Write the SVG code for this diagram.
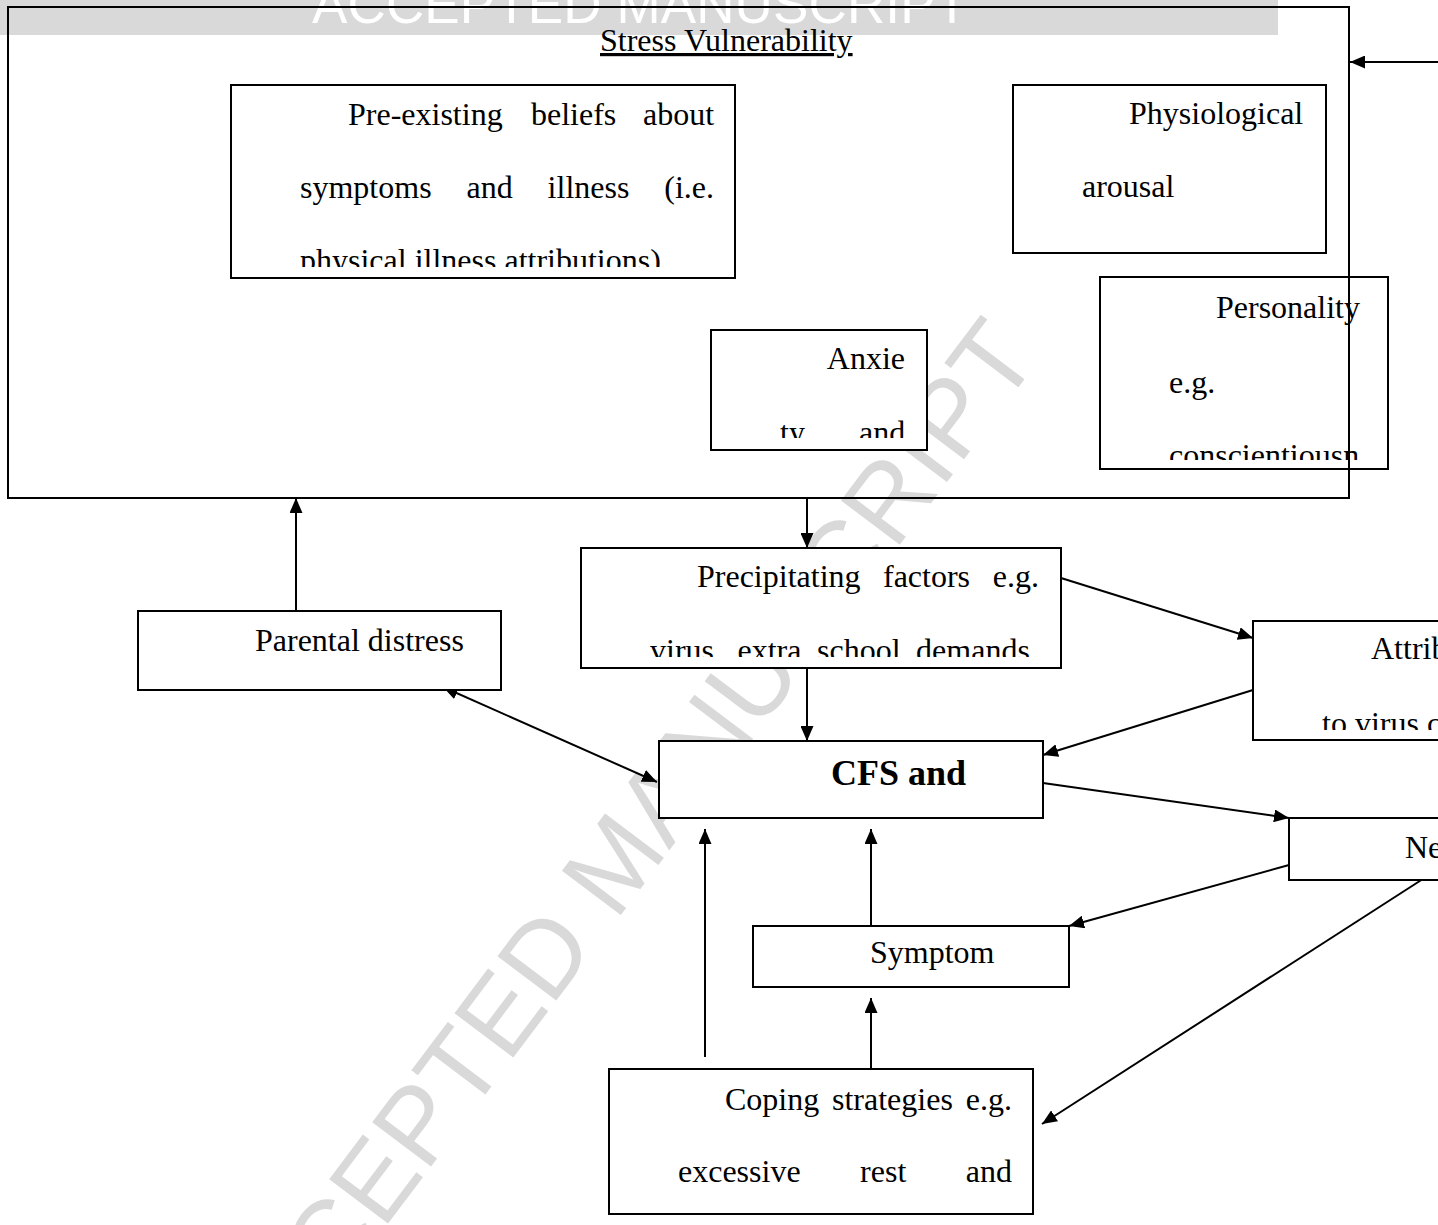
<svg xmlns="http://www.w3.org/2000/svg" width="1438" height="1225" viewBox="0 0 1438 1225">
<style>
.box{fill:#fff;stroke:#000;stroke-width:2}
.frame{fill:none;stroke:#000;stroke-width:2}
.t{font-family:"Liberation Serif","Times New Roman",serif;font-size:32px;fill:#000}
.b{font-weight:bold;font-size:36px}
.c{stroke:#000;stroke-width:2;fill:none}
.wm{font-family:"Liberation Sans",Arial,sans-serif;fill:#d9d9d9}
</style>
<defs>
<marker id="ah" markerWidth="15" markerHeight="13" refX="15" refY="6.5" orient="auto-start-reverse" markerUnits="userSpaceOnUse"><path d="M0,0 L15,6.5 L0,13 z" fill="#000"/></marker>
<clipPath id="clip-pre"><rect x="231" y="85" width="504" height="182"/></clipPath>
<clipPath id="clip-prec"><rect x="581" y="548" width="480" height="109"/></clipPath>
<clipPath id="clip-anx"><rect x="711" y="330" width="216" height="108"/></clipPath>
<clipPath id="clip-pers"><rect x="1100" y="277" width="288" height="183"/></clipPath>
<clipPath id="clip-att"><rect x="1253" y="621" width="200" height="109"/></clipPath>
</defs>

<g id="watermark">
<rect x="0" y="0" width="1278" height="35" fill="#d9d9d9"/>
<text class="wm" x="640" y="23" text-anchor="middle" font-size="53" textLength="656" style="fill:#fff">ACCEPTED MANUSCRIPT</text>
<text class="wm" transform="translate(644,884) rotate(-53)" x="0" y="0" text-anchor="middle" font-size="107">ACCEPTED MANUSCRIPT</text>
</g>

<g id="connectors">
<line class="c" x1="1440" y1="62" x2="1350" y2="62" marker-end="url(#ah)"/>
<line class="c" x1="296" y1="611" x2="296" y2="498" marker-end="url(#ah)"/>
<line class="c" x1="807" y1="498" x2="807" y2="548" marker-end="url(#ah)"/>
<line class="c" x1="807" y1="668" x2="807" y2="741" marker-end="url(#ah)"/>
<line class="c" x1="1061" y1="578" x2="1253" y2="638" marker-end="url(#ah)"/>
<line class="c" x1="1253" y1="690" x2="1043" y2="755" marker-end="url(#ah)"/>
<line class="c" x1="1043" y1="783" x2="1289" y2="818" marker-end="url(#ah)"/>
<line class="c" x1="443" y1="687" x2="657" y2="782" marker-start="url(#ah)" marker-end="url(#ah)"/>
<line class="c" x1="1289" y1="865" x2="1069" y2="926" marker-end="url(#ah)"/>
<line class="c" x1="1426" y1="877" x2="1042" y2="1124" marker-end="url(#ah)"/>
<line class="c" x1="871" y1="926" x2="871" y2="829" marker-end="url(#ah)"/>
<line class="c" x1="871" y1="1069" x2="871" y2="998" marker-end="url(#ah)"/>
<line class="c" x1="705" y1="1057" x2="705" y2="829" marker-end="url(#ah)"/>
</g>

<g id="pre-existing-beliefs">
<rect class="box" x="231" y="85" width="504" height="193"/>
<g clip-path="url(#clip-pre)">
<text class="t" y="125"><tspan x="348">Pre-existing</tspan><tspan x="531">beliefs</tspan><tspan x="643">about</tspan></text>
<text class="t" y="198"><tspan x="300">symptoms</tspan><tspan x="466.5">and</tspan><tspan x="547.6">illness</tspan><tspan x="664.3">(i.e.</tspan></text>
<text class="t" x="300" y="271">physical illness attributions)</text>
</g>
</g>

<g id="physiological-arousal">
<rect class="box" x="1013" y="85" width="313" height="168"/>
<text class="t" x="1129" y="124">Physiological</text>
<text class="t" x="1082" y="197">arousal</text>
</g>

<g id="personality">
<rect class="box" x="1100" y="277" width="288" height="192"/>
<g clip-path="url(#clip-pers)">
<text class="t" x="1216" y="318">Personality</text>
<text class="t" x="1169" y="393">e.g.</text>
<text class="t" x="1169" y="466">conscientiousn</text>
</g>
</g>

<g id="anxiety">
<rect class="box" x="711" y="330" width="216" height="120"/>
<g clip-path="url(#clip-anx)">
<text class="t" x="905" y="369" text-anchor="end">Anxie</text>
<text class="t" y="443"><tspan x="780">ty</tspan><tspan x="859">and</tspan></text>
</g>
</g>

<g id="stress-vulnerability">
<rect class="frame" x="8" y="7" width="1341" height="491"/>
<text class="t" x="600" y="51" text-decoration="underline">Stress Vulnerability</text>
</g>

<g id="precipitating-factors">
<rect class="box" x="581" y="548" width="480" height="120"/>
<g clip-path="url(#clip-prec)">
<text class="t" y="587"><tspan x="697">Precipitating</tspan><tspan x="883">factors</tspan><tspan x="992.7">e.g.</tspan></text>
<text class="t" y="661"><tspan x="650">virus,</tspan><tspan x="737.5">extra</tspan><tspan x="817">school</tspan><tspan x="916.1">demands.</tspan></text>
</g>
</g>

<g id="parental-distress">
<rect class="box" x="138" y="611" width="363" height="79"/>
<text class="t" x="255" y="651">Parental distress</text>
</g>

<g id="attributions">
<rect class="box" x="1253" y="621" width="200" height="119"/>
<g clip-path="url(#clip-att)">
<text class="t" x="1371" y="659">Attrib</text>
<text class="t" x="1322" y="734">to virus c</text>
</g>
</g>

<g id="cfs">
<rect class="box" x="659" y="741" width="384" height="77"/>
<text class="t b" x="831" y="785">CFS and</text>
</g>

<g id="ne">
<rect class="box" x="1289" y="818" width="160" height="62"/>
<text class="t" x="1405" y="858">Ne</text>
</g>

<g id="symptom">
<rect class="box" x="753" y="926" width="316" height="61"/>
<text class="t" x="870" y="963">Symptom</text>
</g>

<g id="coping-strategies">
<rect class="box" x="609" y="1069" width="424" height="145"/>
<text class="t" y="1110"><tspan x="725">Coping</tspan><tspan x="832">strategies</tspan><tspan x="965.8">e.g.</tspan></text>
<text class="t" y="1182"><tspan x="678">excessive</tspan><tspan x="860.1">rest</tspan><tspan x="965.8">and</tspan></text>
</g>

<g id="frame-overlay">
<line class="c" x1="1349" y1="7" x2="1349" y2="498"/>
</g>
</svg>
